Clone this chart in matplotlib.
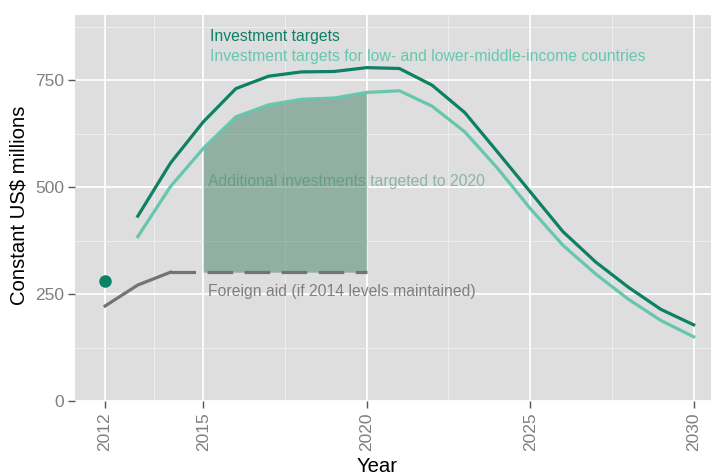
import numpy as np
import matplotlib.pyplot as plt

plt.rcParams['font.family'] = ['Liberation Sans', 'DejaVu Sans']

years = np.arange(2013, 2031)
targets = [432, 556, 652, 730, 759, 769, 770, 779, 777, 738, 674, 582, 489, 396, 325, 266, 214, 178]
targets_lmic = [384, 501, 590, 664, 692, 705, 708, 721, 725, 689, 629, 544, 450, 364, 297, 238, 188, 150]

aid_years = [2012, 2013, 2014]
aid = [222, 271, 301]
aid_kept_years = [2014, 2020]
aid_kept = [301, 301]

dot_year = 2012
dot_value = 281

dark = '#0E8064'
light = '#66C7AE'
bg = '#DEDEDE'

fig = plt.figure(figsize=(7.11, 4.74), dpi=100)
ax = fig.add_axes([75/711, 73/474, 636/711, 386/474])
ax.set_facecolor(bg)
for s in ax.spines.values():
    s.set_visible(False)

ax.set_xlim(2011.08, 2030.53)
ax.set_ylim(0, 902)

ax.set_xticks([2012, 2015, 2020, 2025, 2030])
ax.set_xticks([2013.5, 2017.5, 2022.5, 2027.5], minor=True)
ax.set_yticks([0, 250, 500, 750])
ax.set_yticks([125, 375, 625, 875], minor=True)
ax.grid(which='major', color='white', linewidth=1.3)
ax.grid(which='minor', color='#EEEEEE', linewidth=0.7)
ax.set_axisbelow(True)
ax.tick_params(which='minor', length=0)
ax.tick_params(which='major', length=5, width=1, color='#555555', labelcolor='#7F7F7F',
               labelsize=12.5, pad=3)
plt.setp(ax.get_xticklabels(), rotation=90)

# shaded additional investments 2015-2020
sel = (years >= 2015) & (years <= 2020)
ax.fill_between(years[sel], 301, np.array(targets_lmic)[sel], color='#48826C', alpha=0.5, linewidth=0, zorder=2)

ax.plot(years, targets, color=dark, linewidth=2.3, zorder=3)
ax.plot(years, targets_lmic, color=light, linewidth=2.3, zorder=3)
ax.plot(aid_years, aid, color='#737373', linewidth=2.3, zorder=3)
ax.plot(aid_kept_years, aid_kept, color='#737373', linewidth=2.3, dashes=(8, 3.6), zorder=3)
ax.plot([dot_year], [dot_value], 'o', color=dark, markersize=8, zorder=4)

ax.text(2015.2, 851, 'Investment targets', color=dark, fontsize=11.3, va='center')
ax.text(2015.2, 804, 'Investment targets for low- and lower-middle-income countries',
        color=light, fontsize=11.3, va='center')
ax.text(2015.15, 512, 'Additional investments targeted to 2020', color='#3E8A6E', alpha=0.5,
        fontsize=11.3, va='center', zorder=5)
ax.text(2015.15, 255, 'Foreign aid (if 2014 levels maintained)', color='#7F7F7F',
        fontsize=11.3, va='center', zorder=5)

fig.text(19/711, 1 - 205/474, 'Constant US$ millions', fontsize=14.6, rotation=90,
         ha='center', va='center')
fig.text(377/711, 1 - 466/474, 'Year', fontsize=14.6, ha='center', va='center')

fig.savefig('out.png', dpi=100)
